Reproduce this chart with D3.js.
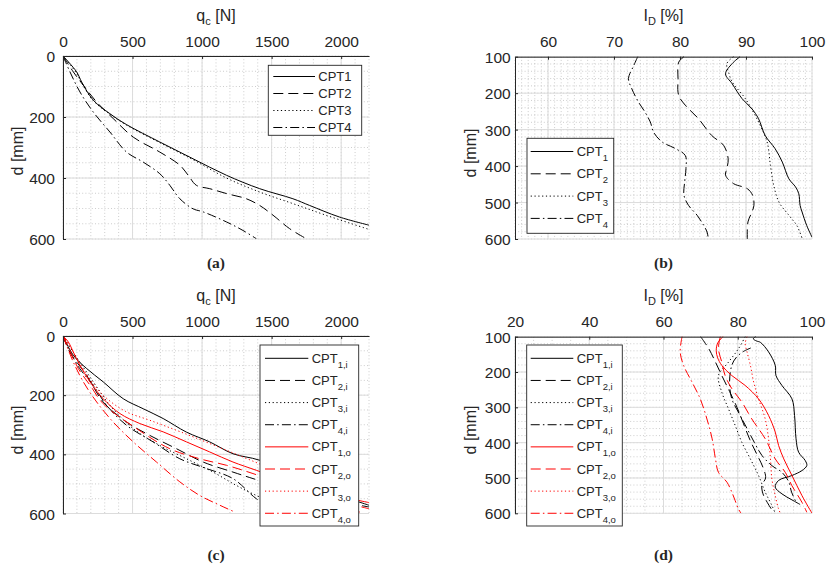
<!DOCTYPE html>
<html><head><meta charset="utf-8">
<script src="https://cdn.jsdelivr.net/npm/d3@7"></script>
<style>
body{margin:0;background:#fff;}
svg text{font-family:"Liberation Sans",Arial,Helvetica,sans-serif;fill:#262626;}
</style></head><body>
<svg id="chart" width="827" height="568"></svg>
<script>
// ---------------- DATA ----------------
// tick labels
const qcTicks = [0, 500, 1000, 1500, 2000];
const depthTicksA = [0, 200, 400, 600];
const idTicksB = [60, 70, 80, 90, 100];
const depthTicksB = [100, 200, 300, 400, 500, 600];
const idTicksD = [20, 40, 60, 80, 100];

// (a) q_c [N] vs depth d [mm]  -> [q_c, d]
const a_CPT1 = [[0,0],[98,52],[134,85],[218,145],[337,189],[457,225],[696,282],[935,337],[1175,391],[1414,435],[1653,468],[1773,490],[1988,528],[2203,555]];
const a_CPT2 = [[0,0],[74,52],[146,96],[242,151],[361,205],[505,266],[696,315],[840,358],[900,391],[959,424],[1055,435],[1175,451],[1318,468],[1414,490],[1510,522],[1629,566],[1749,599]];
const a_CPT3 = [[0,0],[95,55],[130,85],[215,145],[335,190],[455,226],[695,284],[935,340],[1175,400],[1414,446],[1653,484],[1890,522],[2203,569]];
const a_CPT4 = [[0,0],[50,52],[122,118],[218,184],[337,249],[457,315],[577,348],[696,386],[768,424],[840,468],[935,501],[1007,511],[1175,544],[1294,572],[1390,599]];

// (b) I_D [%] vs depth d [mm] -> [I_D, d]
const b_CPT1 = [[89.1,100],[87.9,119],[86.9,147],[87.9,174],[89.4,215],[90.9,243],[91.9,270],[92.9,316],[94.4,352],[95.5,389],[96.5,435],[97.5,457],[98.0,476],[98.2,508],[98.5,526],[99.2,563],[100,595]];
const b_CPT2 = [[80.6,100],[79.8,115],[79.7,160],[79.8,206],[80.8,233],[82.8,270],[84.8,316],[86.6,343],[87.3,380],[87.1,407],[86.9,425],[88.1,448],[90.2,462],[91.0,480],[91.2,508],[90.9,526],[90.3,553],[90.2,600]];
const b_CPT3 = [[88.1,100],[87.1,119],[87.4,145],[87.9,169],[89.9,215],[91.9,279],[93.2,334],[93.7,398],[94.2,453],[95.0,499],[96.5,535],[97.7,563],[98.5,598]];
const b_CPT4 = [[73.6,100],[73.0,124],[72.2,160],[72.7,188],[73.7,224],[74.7,252],[75.5,279],[76.0,307],[77.3,334],[79.3,352],[80.8,371],[80.9,407],[80.7,444],[80.6,480],[81.3,508],[82.6,535],[83.6,563],[84.1,581],[84.3,600]];

// (c) q_c [N] vs depth, inner (i) and outer (o)
const c_CPT1i = [[0,0],[74,65],[170,110],[289,155],[433,212],[577,246],[720,279],[888,325],[1055,358],[1222,398],[1414,420],[1700,480],[2000,540],[2200,572]];
const c_CPT2i = [[0,0],[50,55],[170,133],[289,223],[457,291],[624,336],[816,381],[1007,426],[1222,460],[1366,482],[1700,530],[2000,560],[2200,578]];
const c_CPT3i = [[0,0],[74,55],[218,155],[337,234],[505,313],[696,370],[888,415],[1079,460],[1246,505],[1390,539],[1500,560],[1700,600]];
const c_CPT4i = [[0,0],[38,42],[120,110],[218,167],[313,234],[457,302],[648,358],[840,415],[1031,448],[1222,482],[1390,550],[1500,580],[1600,600]];
const c_CPT1o = [[0,0],[38,20],[74,54],[122,99],[194,155],[289,212],[409,262],[553,296],[720,324],[888,358],[1055,392],[1222,426],[1390,454],[1700,505],[2000,543],[2200,563]];
const c_CPT2o = [[0,0],[40,40],[110,110],[200,170],[289,229],[529,313],[768,381],[983,415],[1175,437],[1366,465],[1700,520],[2000,560],[2200,584]];
const c_CPT3o = [[0,0],[50,35],[110,85],[200,150],[300,205],[450,255],[625,285],[850,325],[1100,372],[1350,420],[1700,490],[2000,560],[2150,600]];
const c_CPT4o = [[0,0],[26,32],[74,88],[146,155],[242,223],[361,291],[505,358],[672,426],[840,493],[983,539],[1127,572],[1240,596]];

// (d) I_D [%] vs depth, inner (i) and outer (o)
const d_CPT1i = [[84.8,100],[84.2,106],[85.0,112],[86.1,116],[88.3,143],[90.1,181],[90.3,210],[91.9,238],[94.6,276],[95.3,323],[95.7,389],[96.4,427],[98.2,451],[98.6,465],[97.3,479],[94.6,493],[91.0,507],[90.1,526],[91.9,545],[94.6,562],[96.8,575]];
const d_CPT2i = [[70.0,100],[72.2,134],[74.0,172],[75.7,210],[77.8,255],[79.8,300],[81.5,345],[83.2,390],[85.0,430],[86.8,470],[87.5,500],[86.5,520],[86.8,545],[88.0,570],[89.8,600]];
const d_CPT3i = [[82.0,100],[80.2,134],[77.5,172],[74.8,210],[75.7,257],[77.5,304],[79.3,351],[81.1,399],[83.4,446],[85.6,493],[87.4,540],[89.2,578],[90.1,600]];
const d_CPT4i = [[83.5,132],[81.5,142],[79.5,160],[78.4,181],[77.8,229],[78.4,276],[80.5,320],[82.5,360],[84.5,400],[86.5,436],[89.2,465],[91.9,484],[93.7,510],[94.5,540],[95.8,570]];
const d_CPT1o = [[76.0,100],[74.6,118],[74.2,140],[74.6,160],[75.7,181],[78.4,210],[82.0,238],[85.6,276],[88.3,323],[90.1,370],[91.0,408],[92.4,446],[94.6,493],[97.3,550],[100,600]];
const d_CPT2o = [[75.3,100],[74.8,134],[75.7,172],[76.6,210],[78.4,247],[81.1,285],[83.8,333],[87.4,389],[90.1,446],[92.8,484],[94.6,522],[97.3,569],[98.6,597]];
const d_CPT3o = [[82.5,100],[82.0,120],[82.5,143],[83.4,181],[84.3,229],[85.6,276],[87.4,333],[88.3,389],[88.8,446],[89.2,503],[90.1,550],[91.0,588],[91.5,600]];
const d_CPT4o = [[65.0,100],[64.5,143],[65.4,181],[67.7,229],[69.9,276],[71.7,333],[73.1,389],[74.0,446],[74.8,484],[77.1,512],[78.4,540],[79.3,564],[80.2,588],[80.9,600]];

// legend names
const namesA = ["CPT1", "CPT2", "CPT3", "CPT4"];
const subsB = ["1", "2", "3", "4"];
const subsCD = ["1,i", "2,i", "3,i", "4,i", "1,o", "2,o", "3,o", "4,o"];

// ---------------- STYLE ----------------
const DASH = { solid: null, dashed: "10,5", dotted: "1.2,2.6", dashdot: "9,3.2,1.5,3.2" };
const styleOrder = ["solid", "dashed", "dotted", "dashdot"];
const AX = "#262626";

const svg = d3.select("#chart");

function addSubText(sel, main, sub, rest, subSize, dy) {
  sel.append("tspan").text(main);
  sel.append("tspan").attr("font-size", subSize).attr("dy", dy).text(sub);
  if (rest) sel.append("tspan").attr("dy", -dy).text(rest);
}

let clipId = 0;
function panel(cfg) {
  const g = svg.append("g");
  const x = d3.scaleLinear().domain(cfg.xDomain).range([cfg.left, cfg.right]);
  const y = d3.scaleLinear().domain(cfg.yDomain).range([cfg.top, cfg.bottom]);

  // minor grid
  const eps = 1e-9;
  const xMinor = d3.range(cfg.xDomain[0], cfg.xDomain[1] + eps, cfg.xMinor);
  const yMinor = d3.range(cfg.yDomain[0], cfg.yDomain[1] + eps, cfg.yMinor);
  const gm = g.append("g").attr("stroke", "#b8b8b8").attr("stroke-width", 0.7).attr("stroke-dasharray", "1,2.2");
  gm.selectAll("line.vx").data(xMinor).join("line")
    .attr("x1", d => x(d)).attr("x2", d => x(d)).attr("y1", cfg.top).attr("y2", cfg.bottom);
  gm.selectAll("line.hy").data(yMinor).join("line")
    .attr("class", "hy")
    .attr("x1", cfg.left).attr("x2", cfg.right).attr("y1", d => y(d)).attr("y2", d => y(d));
  // major grid
  const gM = g.append("g").attr("stroke", "#dcdcdc").attr("stroke-width", 1);
  gM.selectAll("line.mx").data(cfg.xTicks).join("line")
    .attr("x1", d => x(d)).attr("x2", d => x(d)).attr("y1", cfg.top).attr("y2", cfg.bottom);
  gM.selectAll("line.my").data(cfg.yTicks).join("line")
    .attr("class", "my")
    .attr("x1", cfg.left).attr("x2", cfg.right).attr("y1", d => y(d)).attr("y2", d => y(d));

  // clip
  const id = "clip" + (clipId++);
  svg.append("defs").append("clipPath").attr("id", id).append("rect")
    .attr("x", cfg.left).attr("y", cfg.top - 1).attr("width", cfg.right - cfg.left).attr("height", cfg.bottom - cfg.top + 1);

  const line = d3.line().x(d => x(d[0])).y(d => y(d[1])).curve(d3.curveCatmullRom.alpha(0.5));
  const gl = g.append("g").attr("clip-path", `url(#${id})`);
  cfg.series.forEach(s => {
    gl.append("path").datum(s.data).attr("d", line)
      .attr("fill", "none").attr("stroke", s.color).attr("stroke-width", 1)
      .attr("stroke-dasharray", DASH[s.dash]);
  });

  // axes
  const xa = g.append("g").attr("transform", `translate(0,${cfg.top})`)
    .call(d3.axisTop(x).tickValues(cfg.xTicks).tickSize(-3).tickSizeOuter(0).tickPadding(cfg.xPad).tickFormat(d3.format("d")));
  const ya = g.append("g").attr("transform", `translate(${cfg.left},0)`)
    .call(d3.axisLeft(y).tickValues(cfg.yTicks).tickSize(-3).tickSizeOuter(0).tickPadding(cfg.yPad).tickFormat(d3.format("d")));
  [xa, ya].forEach(a => {
    a.attr("font-family", null).attr("font-size", null);
    a.select(".domain").attr("stroke", AX).attr("stroke-width", 1);
    a.selectAll(".tick line").attr("stroke", AX);
    a.selectAll(".tick text").attr("fill", AX).style("font-size", "15.5px");
  });
  ya.selectAll(".tick text").attr("dy", "0.36em");

  // axis titles
  const xt = g.append("text").attr("x", (cfg.left + cfg.right) / 2).attr("y", cfg.titleY)
    .attr("text-anchor", "middle").style("font-size", "16px");
  addSubText(xt, cfg.xTitle[0], cfg.xTitle[1], cfg.xTitle[2], "11px", 4);
  g.append("text").attr("transform", `translate(${cfg.yTitleX},${cfg.yTitleY}) rotate(-90)`)
    .attr("text-anchor", "middle").style("font-size", "16px").text("d [mm]");

  // legend
  const L = cfg.legend;
  const gL = g.append("g");
  gL.append("rect").attr("x", L.x0).attr("y", L.y0).attr("width", L.x1 - L.x0).attr("height", L.y1 - L.y0)
    .attr("fill", "#fff").attr("stroke", AX).attr("stroke-width", 0.9);
  cfg.series.forEach((s, i) => {
    const ry = L.rowY0 + i * L.rowStep;
    gL.append("line").attr("x1", L.lx0).attr("x2", L.lx1).attr("y1", ry).attr("y2", ry)
      .attr("stroke", s.color).attr("stroke-width", 1).attr("stroke-dasharray", DASH[s.dash]);
    const t = gL.append("text").attr("x", L.tx).attr("y", ry + 4.6).style("font-size", "13px");
    if (s.sub) addSubText(t, "CPT", s.sub, null, "9.5px", 5);
    else t.text(s.name);
  });

  // panel label
  svg.append("text").attr("x", (cfg.left + cfg.right) / 2).attr("y", cfg.labelY)
    .attr("text-anchor", "middle")
    .style("font-family", "'Liberation Serif','DejaVu Serif',serif").style("font-weight", "bold").style("font-size", "15.5px")
    .attr("fill", "#111").text(cfg.label);
}

// ---------------- PANELS ----------------
const aData = [a_CPT1, a_CPT2, a_CPT3, a_CPT4];
const bData = [b_CPT1, b_CPT2, b_CPT3, b_CPT4];
const cData = [c_CPT1i, c_CPT2i, c_CPT3i, c_CPT4i, c_CPT1o, c_CPT2o, c_CPT3o, c_CPT4o];
const dData = [d_CPT1i, d_CPT2i, d_CPT3i, d_CPT4i, d_CPT1o, d_CPT2o, d_CPT3o, d_CPT4o];

panel({
  left: 63, right: 369, top: 56, bottom: 239,
  xDomain: [0, 2200], yDomain: [0, 600], xTicks: qcTicks, yTicks: depthTicksA, xMinor: 100, yMinor: 50,
  xPad: 8.7, yPad: 8, titleY: 21, xTitle: ["q", "c", " [N]"], yTitleX: 23, yTitleY: 151,
  series: aData.map((d, i) => ({ data: d, color: "#000", dash: styleOrder[i], name: namesA[i] })),
  legend: { x0: 268.3, x1: 361.7, y0: 65.3, y1: 135.3, rowY0: 76.5, rowStep: 17, lx0: 273.3, lx1: 315, tx: 318.3 },
  label: "(a)", labelY: 268
});
panel({
  left: 515, right: 812, top: 56.7, bottom: 239,
  xDomain: [55, 100], yDomain: [100, 600], xTicks: idTicksB, yTicks: depthTicksB, xMinor: 1, yMinor: 20,
  xPad: 9.3, yPad: 4.3, titleY: 21, xTitle: ["I", "D", " [%]"], yTitleX: 476, yTitleY: 153,
  series: bData.map((d, i) => ({ data: d, color: "#000", dash: styleOrder[i], sub: subsB[i] })),
  legend: { x0: 527, x1: 613.7, y0: 138.3, y1: 233.3, rowY0: 151.5, rowStep: 22.3, lx0: 530.7, lx1: 573.3, tx: 576.7 },
  label: "(b)", labelY: 268
});
panel({
  left: 63, right: 369, top: 336, bottom: 513.5,
  xDomain: [0, 2200], yDomain: [0, 600], xTicks: qcTicks, yTicks: depthTicksA, xMinor: 100, yMinor: 50,
  xPad: 8.7, yPad: 8, titleY: 301, xTitle: ["q", "c", " [N]"], yTitleX: 23, yTitleY: 430,
  series: cData.map((d, i) => ({ data: d, color: i < 4 ? "#000" : "#ff0000", dash: styleOrder[i % 4], sub: subsCD[i] })),
  legend: { x0: 260, x1: 358.7, y0: 345, y1: 526, rowY0: 358.3, rowStep: 22.14, lx0: 265, lx1: 308.3, tx: 311.7 },
  label: "(c)", labelY: 560
});
panel({
  left: 515, right: 812, top: 336.7, bottom: 513.3,
  xDomain: [20, 100], yDomain: [100, 600], xTicks: idTicksD, yTicks: depthTicksB, xMinor: 5, yMinor: 20,
  xPad: 9.3, yPad: 4.3, titleY: 301, xTitle: ["I", "D", " [%]"], yTitleX: 476, yTitleY: 430,
  series: dData.map((d, i) => ({ data: d, color: i < 4 ? "#000" : "#ff0000", dash: styleOrder[i % 4], sub: subsCD[i] })),
  legend: { x0: 526.7, x1: 622.3, y0: 345, y1: 526, rowY0: 358.3, rowStep: 22.14, lx0: 530.7, lx1: 573.3, tx: 576.7 },
  label: "(d)", labelY: 560
});
</script>
</body></html>
